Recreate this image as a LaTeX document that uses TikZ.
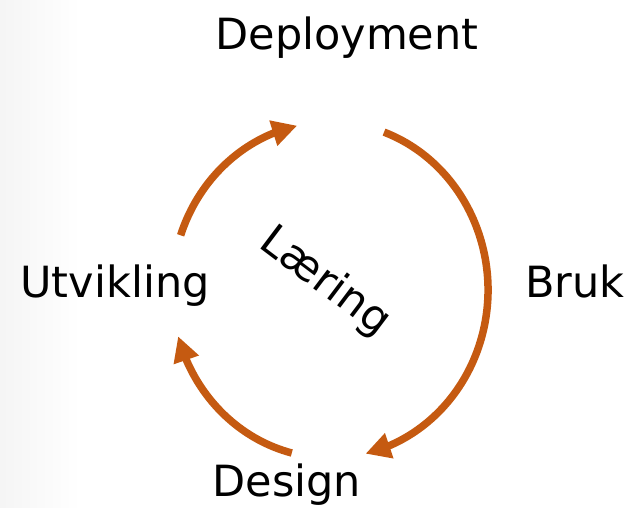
\documentclass[tikz,border=0pt]{standalone}
\usepackage{fontspec}
\setmainfont{DejaVu Sans}
\usetikzlibrary{arrows.meta,bending,calc}

\definecolor{cycorange}{RGB}{197,90,17}

\tikzset{
    stage/.style={inner sep=0pt, anchor=base, font=\fontsize{43}{50}\selectfont},
    cyclearrow/.style={draw=cycorange, line width=7.5pt,
        -{Triangle[length=25pt,width=25pt]}},
}

\begin{document}
\begin{tikzpicture}[x=1pt,y=1pt]
    \useasboundingbox (0,0) rectangle (631,508);
    % faint shadow at the left edge
    \shade[left color=black!4, right color=white] (0,0) rectangle (80,508);
    %% stages of the cycle
    \node[stage] (dep) at (347,458) {Deployment};
    \node[stage] (utv) at (115,210) {Utvikling};
    \node[stage] (bruk) at (575,210) {Bruk};
    \node[stage] (des) at (287,11) {Design};
    \node[stage, anchor=center, rotate=-37] (laer) at (325,226) {Læring};
    %% centre of the cycle and the start of each arrow
    \coordinate (c) at (330,218);
    \coordinate (s1) at ($(c)+(161:158pt and 168pt)$);
    \coordinate (s2) at ($(c)+(70:158pt and 168pt)$);
    \coordinate (s3) at ($(c)+(256:158pt and 168pt)$);
    \draw[cyclearrow] (s1) arc[start angle=161, end angle=102, x radius=158pt, y radius=168pt];
    \draw[cyclearrow] (s2) arc[start angle=70, end angle=-77, x radius=158pt, y radius=168pt];
    \draw[cyclearrow] (s3) arc[start angle=256, end angle=196, x radius=158pt, y radius=168pt];
\end{tikzpicture}
\end{document}
